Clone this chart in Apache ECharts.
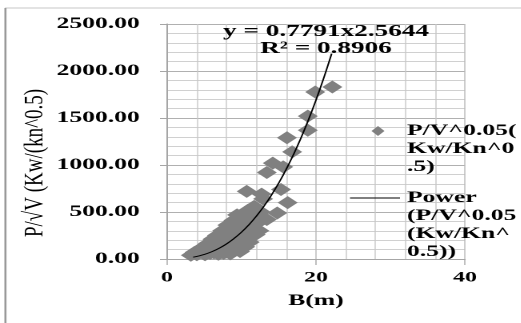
<!DOCTYPE html>
<html><head><meta charset="utf-8">
<script src="https://cdn.jsdelivr.net/npm/echarts@6/dist/echarts.min.js"></script>
<style>html,body{margin:0;padding:0;background:#fff;overflow:hidden}
#wrap{width:325.625px;height:323px;transform:scaleX(1.6);transform-origin:0 0}</style>
</head><body><div id="wrap"></div>
<script>
const scatterX = [3.2,3.7,4.0,4.2,4.6,4.8,5.1,5.2,5.5,5.8,5.9,6.1,6.3,6.5,6.7,6.9,7.0,7.2,7.4,7.6,7.8,8.0,8.1,8.3,8.5,8.6,8.7,8.9,9.1,9.3,9.4,9.5,9.8,9.9,10.1,10.3,10.5,10.6,10.8,10.9,11.1,11.3,11.5,11.7,11.9,12.1,12.4,12.6,12.9,13.4,10.7,12.7,14.8,15.3,16.2,13.4,14.2,15.6,16.8,16.1,18.9,18.9,19.9,22.2];
const scatterY = [40,70,45,90,70,125,45,80,165,60,115,210,65,150,250,50,100,190,300,60,140,240,360,95,55,190,300,410,130,240,470,350,80,180,290,420,130,230,340,520,180,300,440,560,260,380,300,500,640,420,720,690,490,740,600,920,1020,980,1140,1290,1370,1520,1777,1830];
const trendX = [3.5,4,5,6,7,8,9,10,11,12,13,14,15,16,17,18,19,20,21,22,22.1];
const trendY = [19.4,27.3,48.3,77.1,114.5,161.2,218.1,285.7,364.9,456.3,560.2,677.3,808.4,954.1,1114.6,1290.6,1482.1,1690.8,1915.5,2158.4,2185];
const xTicks = [0, 20, 40];
const yTicks = [0, 500, 1000, 1500, 2000, 2500];
const seriesName1 = 'P/V^0.05(Kw/Kn^0.5)';
const seriesName2 = 'Power (P/V^0.05 (Kw/Kn^0.5))';
const legend1Lines = ['P/V^0.05(', 'Kw/Kn^0', '.5)'];
const legend2Lines = ['Power', '(P/V^0.05', '(Kw/Kn^', '0.5))'];
const trendLabel = ['y = 0.7791x2.5644', 'R² = 0.8906'];
const yTitle = 'P/√V (Kw/(kn^0.5)';
const xTitle = 'B(m)';

const S = 1.6;
const serif = '"Liberation Serif","Times New Roman",serif';
const chart = echarts.init(document.getElementById('wrap'), null, {devicePixelRatio: 2});
chart.setOption({
  animation: false,
  backgroundColor: '#fff',
  grid: {left: 104.4, top: 24, width: 186.2, height: 235, containLabel: false},
  xAxis: {
    type: 'value', min: xTicks[0], max: xTicks[xTicks.length-1], interval: 20,
    name: xTitle, nameLocation: 'middle', nameGap: 34,
    nameTextStyle: {fontFamily: serif, fontWeight: 'bold', fontSize: 16, color: '#000'},
    axisLine: {show: true, lineStyle: {color: '#a6a6a6', width: 1}},
    axisTick: {show: true, inside: false, length: 6, lineStyle: {color: '#a6a6a6', width: 0.7}},
    axisLabel: {fontFamily: serif, fontWeight: 'bold', fontSize: 15, color: '#000', margin: 11},
    splitLine: {show: true, lineStyle: {color: '#b8b8b8', width: 0.7}},
    minorTick: {show: false, splitNumber: 5},
    minorSplitLine: {show: true, lineStyle: {color: '#c8c8c8', width: 0.7}}
  },
  yAxis: {
    type: 'value', min: yTicks[0], max: yTicks[yTicks.length-1], interval: 500,
    axisLine: {show: true, lineStyle: {color: '#a6a6a6', width: 1}},
    axisTick: {show: true, inside: false, length: 4.4, lineStyle: {color: '#a6a6a6'}},
    axisLabel: {fontFamily: serif, fontWeight: 'bold', fontSize: 16, color: '#000', margin: 17,
      formatter: v => v.toFixed(2)},
    splitLine: {show: true, lineStyle: {color: '#b0b0b0', width: 1}},
    minorTick: {show: false, splitNumber: 5},
    minorSplitLine: {show: true, lineStyle: {color: '#d0d0d0', width: 1}}
  },
  series: [
    {name: seriesName1, type: 'scatter', symbol: 'diamond', symbolSize: [12.5, 13],
      itemStyle: {color: '#808080', opacity: 1},
      data: scatterX.map((x, i) => [x, scatterY[i]])},
    {name: seriesName2, type: 'line', smooth: true, showSymbol: false, symbol: 'none',
      lineStyle: {color: '#000', width: 1}, z: 5,
      data: trendX.map((x, i) => [x, trendY[i]])}
  ],
  graphic: [
    {type: 'line', shape: {x1: 3.1, y1: 8, x2: 330, y2: 8}, style: {stroke: '#c8c8c8', lineWidth: 1}},
    {type: 'line', shape: {x1: 3.4, y1: 8, x2: 3.4, y2: 330}, style: {stroke: '#999', lineWidth: 1.3}},
    {type: 'text', x: 21.9, y: 163, rotation: Math.PI/2, scaleY: 0.9,
      style: {text: yTitle, font: '19px ' + serif, fill: '#000', align: 'center', verticalAlign: 'middle', textAlign: 'center', textVerticalAlign: 'middle'}},
    {type: 'text', x: 203.75, y: 40, z: 10,
      style: {text: trendLabel.join('\n'), font: 'bold 17px ' + serif, lineHeight: 17, fill: '#000', align: 'center', verticalAlign: 'middle', textAlign: 'center', textVerticalAlign: 'middle'}},
    {type: 'polygon', shape: {points: [[232.2,131],[236.25,126],[240.3,131],[236.25,136]]}, style: {fill: '#808080'}, z: 10},
    {type: 'text', x: 254.4, y: 122, z: 10,
      style: {text: legend1Lines.join('\n'), font: 'bold 16px ' + serif, lineHeight: 18, fill: '#000', align: 'left', verticalAlign: 'top', textAlign: 'left', textVerticalAlign: 'top'}},
    {type: 'line', shape: {x1: 218.75, y1: 198, x2: 250, y2: 198}, style: {stroke: '#000', lineWidth: 1}, z: 10},
    {type: 'text', x: 254.4, y: 189, z: 10,
      style: {text: legend2Lines.join('\n'), font: 'bold 16px ' + serif, lineHeight: 18, fill: '#000', align: 'left', verticalAlign: 'top', textAlign: 'left', textVerticalAlign: 'top'}}
  ]
});
</script></body></html>
